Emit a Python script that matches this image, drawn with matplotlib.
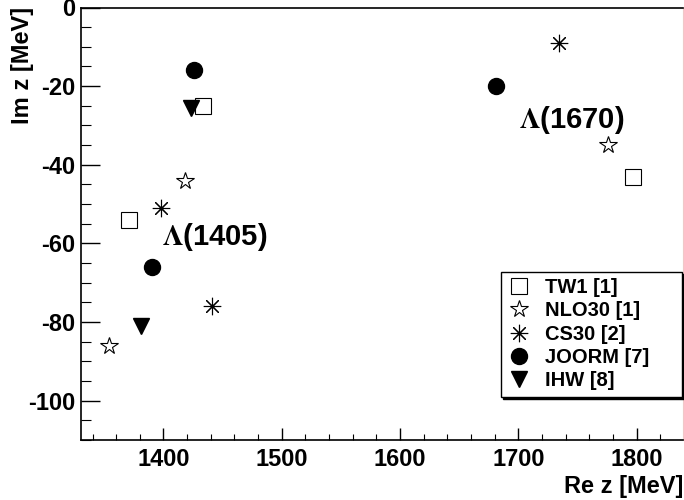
import matplotlib
matplotlib.use('Agg')
import matplotlib.pyplot as plt
from matplotlib.ticker import MultipleLocator

plt.rcParams['font.family'] = ['Liberation Sans', 'DejaVu Sans']
plt.rcParams['font.weight'] = 'bold'
plt.rcParams['mathtext.fontset'] = 'stix'
plt.rcParams['axes.unicode_minus'] = False

# pole positions (Re z, Im z) in MeV
tw1_re = [1433, 1371, 1797]
tw1_im = [-25, -54, -43]
nlo30_re = [1418, 1354, 1776]
nlo30_im = [-44, -86, -35]
cs30_re = [1398, 1441, 1734]
cs30_im = [-51, -76, -9]
joorm_re = [1426, 1390, 1681]
joorm_im = [-16, -66, -20]
ihw_re = [1423, 1381]
ihw_im = [-25.5, -81]

labels = ['TW1 [1]', 'NLO30 [1]', 'CS30 [2]', 'JOORM [7]', 'IHW [8]']

fig = plt.figure(figsize=(6.84, 5.0), dpi=100)
ax = fig.add_axes([80.7 / 684, 60 / 500, (682.7 - 80.7) / 684, (440 - 7.5) / 500])

ax.plot(tw1_re, tw1_im, ls='none', marker='s', ms=11.5, mfc='white', mec='black', mew=0.8, label=labels[0])
ax.plot(nlo30_re, nlo30_im, ls='none', marker='*', ms=13, mfc='white', mec='black', mew=0.8, label=labels[1])
ax.plot(cs30_re, cs30_im, ls='none', marker=(8, 2, 0), ms=12.5, mec='black', mew=0.8, label=labels[2])
ax.plot(joorm_re, joorm_im, ls='none', marker='o', ms=11.5, color='black', label=labels[3])
ax.plot(ihw_re, ihw_im, ls='none', marker='v', ms=11.5, color='black', label=labels[4])

ax.text(1399, -60.4, r'$\Lambda$(1405)', fontsize=21, fontweight='bold', va='baseline', ha='left')
ax.text(1700.5, -30.7, r'$\Lambda$(1670)', fontsize=21, fontweight='bold', va='baseline', ha='left')

ax.set_xlim(1330, 1839)
ax.set_ylim(-110, 0)
ax.xaxis.set_major_locator(MultipleLocator(100))
ax.xaxis.set_minor_locator(MultipleLocator(20))
ax.yaxis.set_major_locator(MultipleLocator(20))
ax.yaxis.set_minor_locator(MultipleLocator(5))

ax.tick_params(axis='x', which='major', direction='in', length=9, width=1, labelsize=17, pad=6)
ax.tick_params(axis='x', which='minor', direction='in', length=4.5, width=0.8)
ax.tick_params(axis='y', which='major', direction='in', length=13.5, width=1, labelsize=17, pad=4)
ax.tick_params(axis='y', which='minor', direction='in', length=7, width=0.8)

for s in ['left', 'bottom', 'top']:
    ax.spines[s].set_linewidth(1.2)
ax.spines['right'].set_color('#f0c8c8')
ax.spines['right'].set_linewidth(0.8)

fig.text(683 / 684, 1 - 486 / 500, 'Re z [MeV]', fontsize=17, fontweight='bold', ha='right', va='center')
fig.text(23 / 684, 1 - 7 / 500, 'Im z [MeV]', fontsize=17, fontweight='bold', rotation=90,
         ha='center', va='top')

leg = ax.legend(loc='upper left',
                bbox_to_anchor=(500.7 / 684, 1 - 401.7 / 500, 181 / 684, 130 / 500),
                bbox_transform=fig.transFigure, mode='expand', borderaxespad=0, fancybox=False,
                shadow={'color': 'black', 'alpha': 1}, framealpha=1, edgecolor='black',
                prop={'weight': 'bold', 'size': 14.5}, handlelength=1.2, handletextpad=0.7,
                labelspacing=0.22, borderpad=0.3, numpoints=1)
leg.get_frame().set_linewidth(1.0)

fig.savefig('out.png', dpi=100)
